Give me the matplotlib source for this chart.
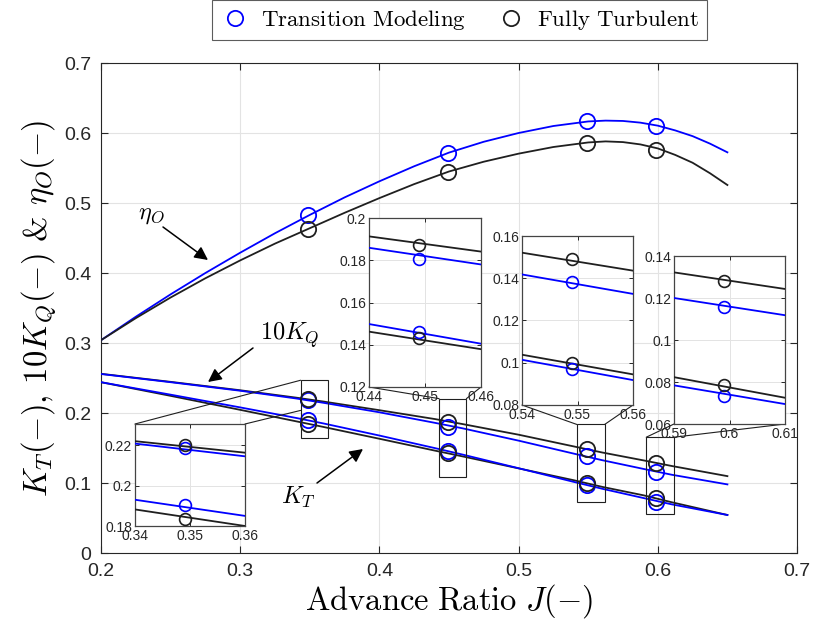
import matplotlib
matplotlib.use("Agg")
import matplotlib.pyplot as plt
from matplotlib.lines import Line2D
from matplotlib.patches import Rectangle, ConnectionPatch
from matplotlib.ticker import FuncFormatter

plt.rcParams["mathtext.fontset"] = "cm"
plt.rcParams["font.family"] = ["Liberation Sans", "DejaVu Sans"]

# ---------------- data ----------------
# simulated operating points (advance ratio)
J_pts = [0.349, 0.449, 0.549, 0.599]
eta_tm_pts = [0.483, 0.572, 0.617, 0.6096]
eta_ft_pts = [0.4634, 0.545, 0.586, 0.5753]
kq10_tm_pts = [0.2188, 0.1805, 0.1381, 0.1159]
kq10_ft_pts = [0.2200, 0.1873, 0.1491, 0.1283]
kt_tm_pts = [0.1902, 0.1462, 0.0971, 0.0735]
kt_ft_pts = [0.1837, 0.1433, 0.0998, 0.0785]

# open-water curves
J_eta = [0.200, 0.225, 0.250, 0.275, 0.300, 0.325, 0.350, 0.375, 0.400, 0.425,
         0.450, 0.475, 0.500, 0.525, 0.550, 0.5625, 0.575, 0.5875, 0.600, 0.6125,
         0.625, 0.6375, 0.650]
eta_tm_curve = [0.304, 0.3375, 0.3695, 0.400, 0.429, 0.4568, 0.483, 0.508, 0.531, 0.5525,
                0.572, 0.5875, 0.600, 0.610, 0.6165, 0.6177, 0.6172, 0.6148, 0.6105, 0.6037,
                0.5955, 0.5848, 0.5724]
eta_ft_curve = [0.304, 0.3355, 0.365, 0.3925, 0.418, 0.442, 0.464, 0.486, 0.507, 0.527,
                0.545, 0.559, 0.5705, 0.580, 0.5865, 0.5880, 0.5870, 0.5837, 0.5780, 0.5687,
                0.5575, 0.5425, 0.5257]

J_k = [0.20, 0.25, 0.30, 0.34, 0.36, 0.40, 0.44, 0.46, 0.50, 0.54, 0.56, 0.59, 0.61, 0.65]
kq10_tm_curve = [0.2557, 0.2440, 0.2318, 0.2208, 0.2145, 0.2010, 0.1859, 0.1780, 0.1605,
                 0.1418, 0.1326, 0.1200, 0.1118, 0.0980]
kq10_ft_curve = [0.2560, 0.2445, 0.2325, 0.2220, 0.2163, 0.2040, 0.1913, 0.1841, 0.1690,
                 0.1521, 0.1436, 0.1322, 0.1243, 0.1098]
kt_tm_curve = [0.2440, 0.2262, 0.2080, 0.1930, 0.1850, 0.1678, 0.1498, 0.1405, 0.1211,
               0.1014, 0.0918, 0.0784, 0.0695, 0.0543]
kt_ft_curve = [0.2440, 0.2245, 0.2045, 0.1882, 0.1800, 0.1632, 0.1462, 0.1379, 0.1209,
               0.1038, 0.0945, 0.0823, 0.0725, 0.0543]

x_ticks = [0.2, 0.3, 0.4, 0.5, 0.6, 0.7]
y_ticks = [0, 0.1, 0.2, 0.3, 0.4, 0.5, 0.6, 0.7]

labels = [r"$\mathrm{Transition\ Modeling}$", r"$\mathrm{Fully\ Turbulent}$"]

# ---------------- styling ----------------
BLUE = "#0000ff"
BLACK = "#1f1f1f"
GRID = "#e3e3e3"
AXC = "#262626"
LW = 1.3

W, H = 814, 634
fig = plt.figure(figsize=(W / 100, H / 100), dpi=100)


def fx(px):
    return px / W


def fy(py):
    return 1 - py / H


fmt = FuncFormatter(lambda v, p: "%g" % round(v, 6))

ax = fig.add_axes([fx(101), fy(553), fx(797) - fx(101), fy(63) - fy(553)])
ax.set_xlim(0.2, 0.7)
ax.set_ylim(0, 0.7)
ax.set_xticks(x_ticks)
ax.set_yticks(y_ticks)
ax.xaxis.set_major_formatter(fmt)
ax.yaxis.set_major_formatter(fmt)
ax.grid(True, color=GRID, lw=0.8)
ax.set_axisbelow(True)
ax.tick_params(direction="in", length=5, width=0.8, top=True, right=True,
               labelsize=14, colors=AXC, pad=7)
for s in ax.spines.values():
    s.set_color(AXC)
    s.set_linewidth(0.8)


def draw_series(a, ms, mew):
    a.plot(J_eta, eta_tm_curve, color=BLUE, lw=LW, zorder=3)
    a.plot(J_eta, eta_ft_curve, color=BLACK, lw=LW, zorder=3)
    a.plot(J_k, kq10_ft_curve, color=BLACK, lw=LW, zorder=3)
    a.plot(J_k, kq10_tm_curve, color=BLUE, lw=LW, zorder=3)
    a.plot(J_k, kt_ft_curve, color=BLACK, lw=LW, zorder=3)
    a.plot(J_k, kt_tm_curve, color=BLUE, lw=LW, zorder=3)
    for vals, c in [(eta_tm_pts, BLUE), (eta_ft_pts, BLACK),
                    (kq10_tm_pts, BLUE), (kq10_ft_pts, BLACK),
                    (kt_tm_pts, BLUE), (kt_ft_pts, BLACK)]:
        a.plot(J_pts, vals, ls="none", marker="o", ms=ms, mfc="none",
               mec=c, mew=mew, zorder=4)


draw_series(ax, 11, 1.3)

ax.set_xlabel(r"$\mathrm{Advance\ Ratio}\ J(-)$", fontsize=23.5, labelpad=2)
ax.set_ylabel(r"$K_T(-)$, $10K_Q(-)$ & $\eta_O(-)$", fontsize=23.5, labelpad=4,
              family=["cmr10", "DejaVu Serif"])

# zoom windows on the main axes: (x0, y0, width, height) in data units
zoom_boxes = [
    (0.3434, 0.1636, 0.0198, 0.0832),
    (0.4429, 0.1086, 0.0196, 0.1119),
    (0.5419, 0.0727, 0.0199, 0.1109),
    (0.5917, 0.0555, 0.0199, 0.1099),
]
for (x0, y0, w, h) in zoom_boxes:
    ax.add_patch(Rectangle((x0, y0), w, h, fill=False, ec=BLACK, lw=0.8, zorder=5))

# inset axes: figure-pixel frame, limits and ticks
insets = [
    dict(px=(135, 424, 245, 526), xlim=(0.34, 0.36), ylim=(0.18, 0.2305),
         yt=[0.18, 0.2, 0.22], xt=[0.34, 0.35, 0.36]),
    dict(px=(369, 218, 481, 387), xlim=(0.44, 0.46), ylim=(0.12, 0.2),
         yt=[0.12, 0.14, 0.16, 0.18, 0.2], xt=[0.44, 0.45, 0.46]),
    dict(px=(522, 236, 633, 405), xlim=(0.54, 0.56), ylim=(0.08, 0.16),
         yt=[0.08, 0.1, 0.12, 0.14, 0.16], xt=[0.54, 0.55, 0.56]),
    dict(px=(674, 256, 785, 424), xlim=(0.59, 0.61), ylim=(0.06, 0.14),
         yt=[0.06, 0.08, 0.1, 0.12, 0.14], xt=[0.59, 0.6, 0.61]),
]

inset_axes = []
for spec in insets:
    x0, y0, x1, y1 = spec["px"]
    ia = fig.add_axes([fx(x0), fy(y1), fx(x1) - fx(x0), fy(y0) - fy(y1)])
    ia.set_xlim(*spec["xlim"])
    ia.set_ylim(*spec["ylim"])
    ia.set_xticks(spec["xt"])
    ia.set_yticks(spec["yt"])
    ia.xaxis.set_major_formatter(fmt)
    ia.yaxis.set_major_formatter(fmt)
    ia.grid(True, color=GRID, lw=0.7)
    ia.set_axisbelow(True)
    ia.tick_params(direction="in", length=3, width=0.7, top=True, right=True,
                   labelsize=10, colors=AXC, pad=2)
    for s in ia.spines.values():
        s.set_color("#444444")
        s.set_linewidth(0.9)
    draw_series(ia, 8.5, 1.2)
    ia.set_zorder(10)
    inset_axes.append(ia)

# connector lines between inset frames and zoom windows
links = [
    [((0, 1), (zoom_boxes[0][0], zoom_boxes[0][1] + zoom_boxes[0][3])),
     ((1, 1), (zoom_boxes[0][0], 0.2037))],
]
for (x0, y0, w, h) in zoom_boxes[1:]:
    links.append([((0, 0), (x0, y0 + h)), ((1, 0), (x0 + w, y0 + h))])

for ia, pair in zip(inset_axes, links):
    for (a_xy, d_xy) in pair:
        cp = ConnectionPatch(xyA=a_xy, coordsA=ia.transAxes, xyB=d_xy,
                             coordsB=ax.transData, color=BLACK, lw=0.8)
        fig.add_artist(cp)

# annotations
arrow_kw = dict(arrowstyle="-|>", color="black", lw=1.1, mutation_scale=20,
                shrinkA=0, shrinkB=0)
fig.text(fx(151), fy(215), r"$\eta_O$", fontsize=17.5, ha="center", va="center")
ax.annotate("", xy=(fx(208), fy(260)), xytext=(fx(163), fy(227)),
            xycoords="figure fraction", textcoords="figure fraction",
            arrowprops=arrow_kw)
fig.text(fx(290), fy(335), r"$10K_Q$", fontsize=17.5, ha="center", va="center")
ax.annotate("", xy=(fx(208), fy(382)), xytext=(fx(253), fy(348)),
            xycoords="figure fraction", textcoords="figure fraction",
            arrowprops=arrow_kw)
fig.text(fx(298), fy(497), r"$K_T$", fontsize=17.5, ha="center", va="center")
ax.annotate("", xy=(fx(363), fy(449)), xytext=(fx(317), fy(483)),
            xycoords="figure fraction", textcoords="figure fraction",
            arrowprops=arrow_kw)

# legend
handles = [Line2D([], [], ls="none", marker="o", ms=11, mfc="none", mec=BLUE, mew=1.3),
           Line2D([], [], ls="none", marker="o", ms=11, mfc="none", mec=BLACK, mew=1.3)]
leg = fig.legend(handles, labels, loc="center", bbox_to_anchor=(fx(459.5), fy(20)),
                 ncol=2, frameon=True, fancybox=False, fontsize=16.5,
                 handletextpad=0.5, columnspacing=1.3, borderpad=0.35,
                 handlelength=1.3)
leg.get_frame().set_edgecolor("#333333")
leg.get_frame().set_linewidth(0.8)

fig.savefig("out.png", dpi=100)
